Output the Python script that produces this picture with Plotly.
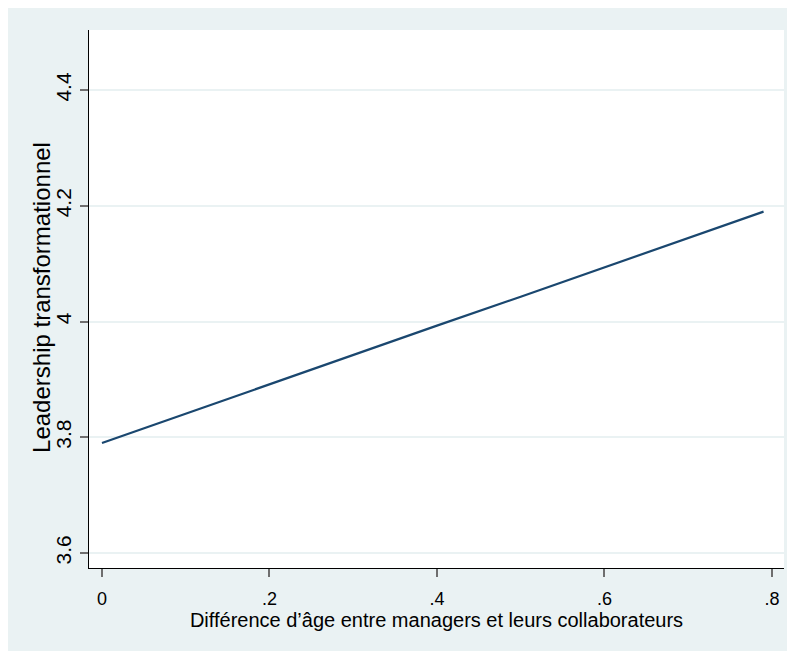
import plotly.graph_objects as go

# Data
age_gap = [0.0, 0.1, 0.2, 0.3, 0.4, 0.5, 0.6, 0.7, 0.79]
leadership = [3.79, 3.841, 3.891, 3.942, 3.993, 4.043, 4.094, 4.144, 4.19]

x_tickvals = [0, 0.2, 0.4, 0.6, 0.8]
x_ticktext = ["0", ".2", ".4", ".6", ".8"]
y_tickvals = [3.6, 3.8, 4.0, 4.2, 4.4]
y_ticktext = ["3.6", "3.8", "4", "4.2", "4.4"]

x_title = "Différence d’âge entre managers et leurs collaborateurs"
y_title = "Leadership transformationnel"

BG = "#EAF2F3"
FONT = "Liberation Sans, Arial, sans-serif"

fig = go.Figure()
fig.add_trace(go.Scatter(
    x=age_gap, y=leadership, mode="lines",
    line=dict(color="#1a476f", width=2.2),
    showlegend=False, hoverinfo="skip",
))

fig.add_annotation(
    text=y_title, textangle=-90,
    xref="paper", yref="paper", x=-0.0676, y=0.502,
    xanchor="center", yanchor="middle", showarrow=False,
    font=dict(size=24, family=FONT, color="black"),
)

fig.update_layout(
    width=787, height=643,
    margin=dict(l=81, r=11, t=22, b=83, pad=0),
    paper_bgcolor=BG, plot_bgcolor="white",
    font=dict(family=FONT, color="black"),
    xaxis=dict(
        range=[-0.0155, 0.8144],
        tickvals=x_tickvals, ticktext=x_ticktext,
        ticks="outside", ticklen=8, tickwidth=1.5, tickcolor="#6e6e6e",
        ticklabelstandoff=6,
        tickfont=dict(size=18, family=FONT, color="black"),
        showgrid=False, zeroline=False,
        showline=True, linecolor="black", linewidth=1.3,
        title=dict(text=x_title, font=dict(size=20, family=FONT, color="black"), standoff=2),
    ),
    yaxis=dict(
        range=[3.574, 4.504],
        tickvals=y_tickvals, ticktext=y_ticktext,
        tickangle=-90,
        ticks="outside", ticklen=8, tickwidth=1.5, tickcolor="#6e6e6e",
        tickfont=dict(size=21, family=FONT, color="black"),
        showgrid=True, gridcolor=BG, gridwidth=1.5,
        zeroline=False,
        showline=True, linecolor="black", linewidth=1.3,
    ),
)

fig.write_html("out.html")
